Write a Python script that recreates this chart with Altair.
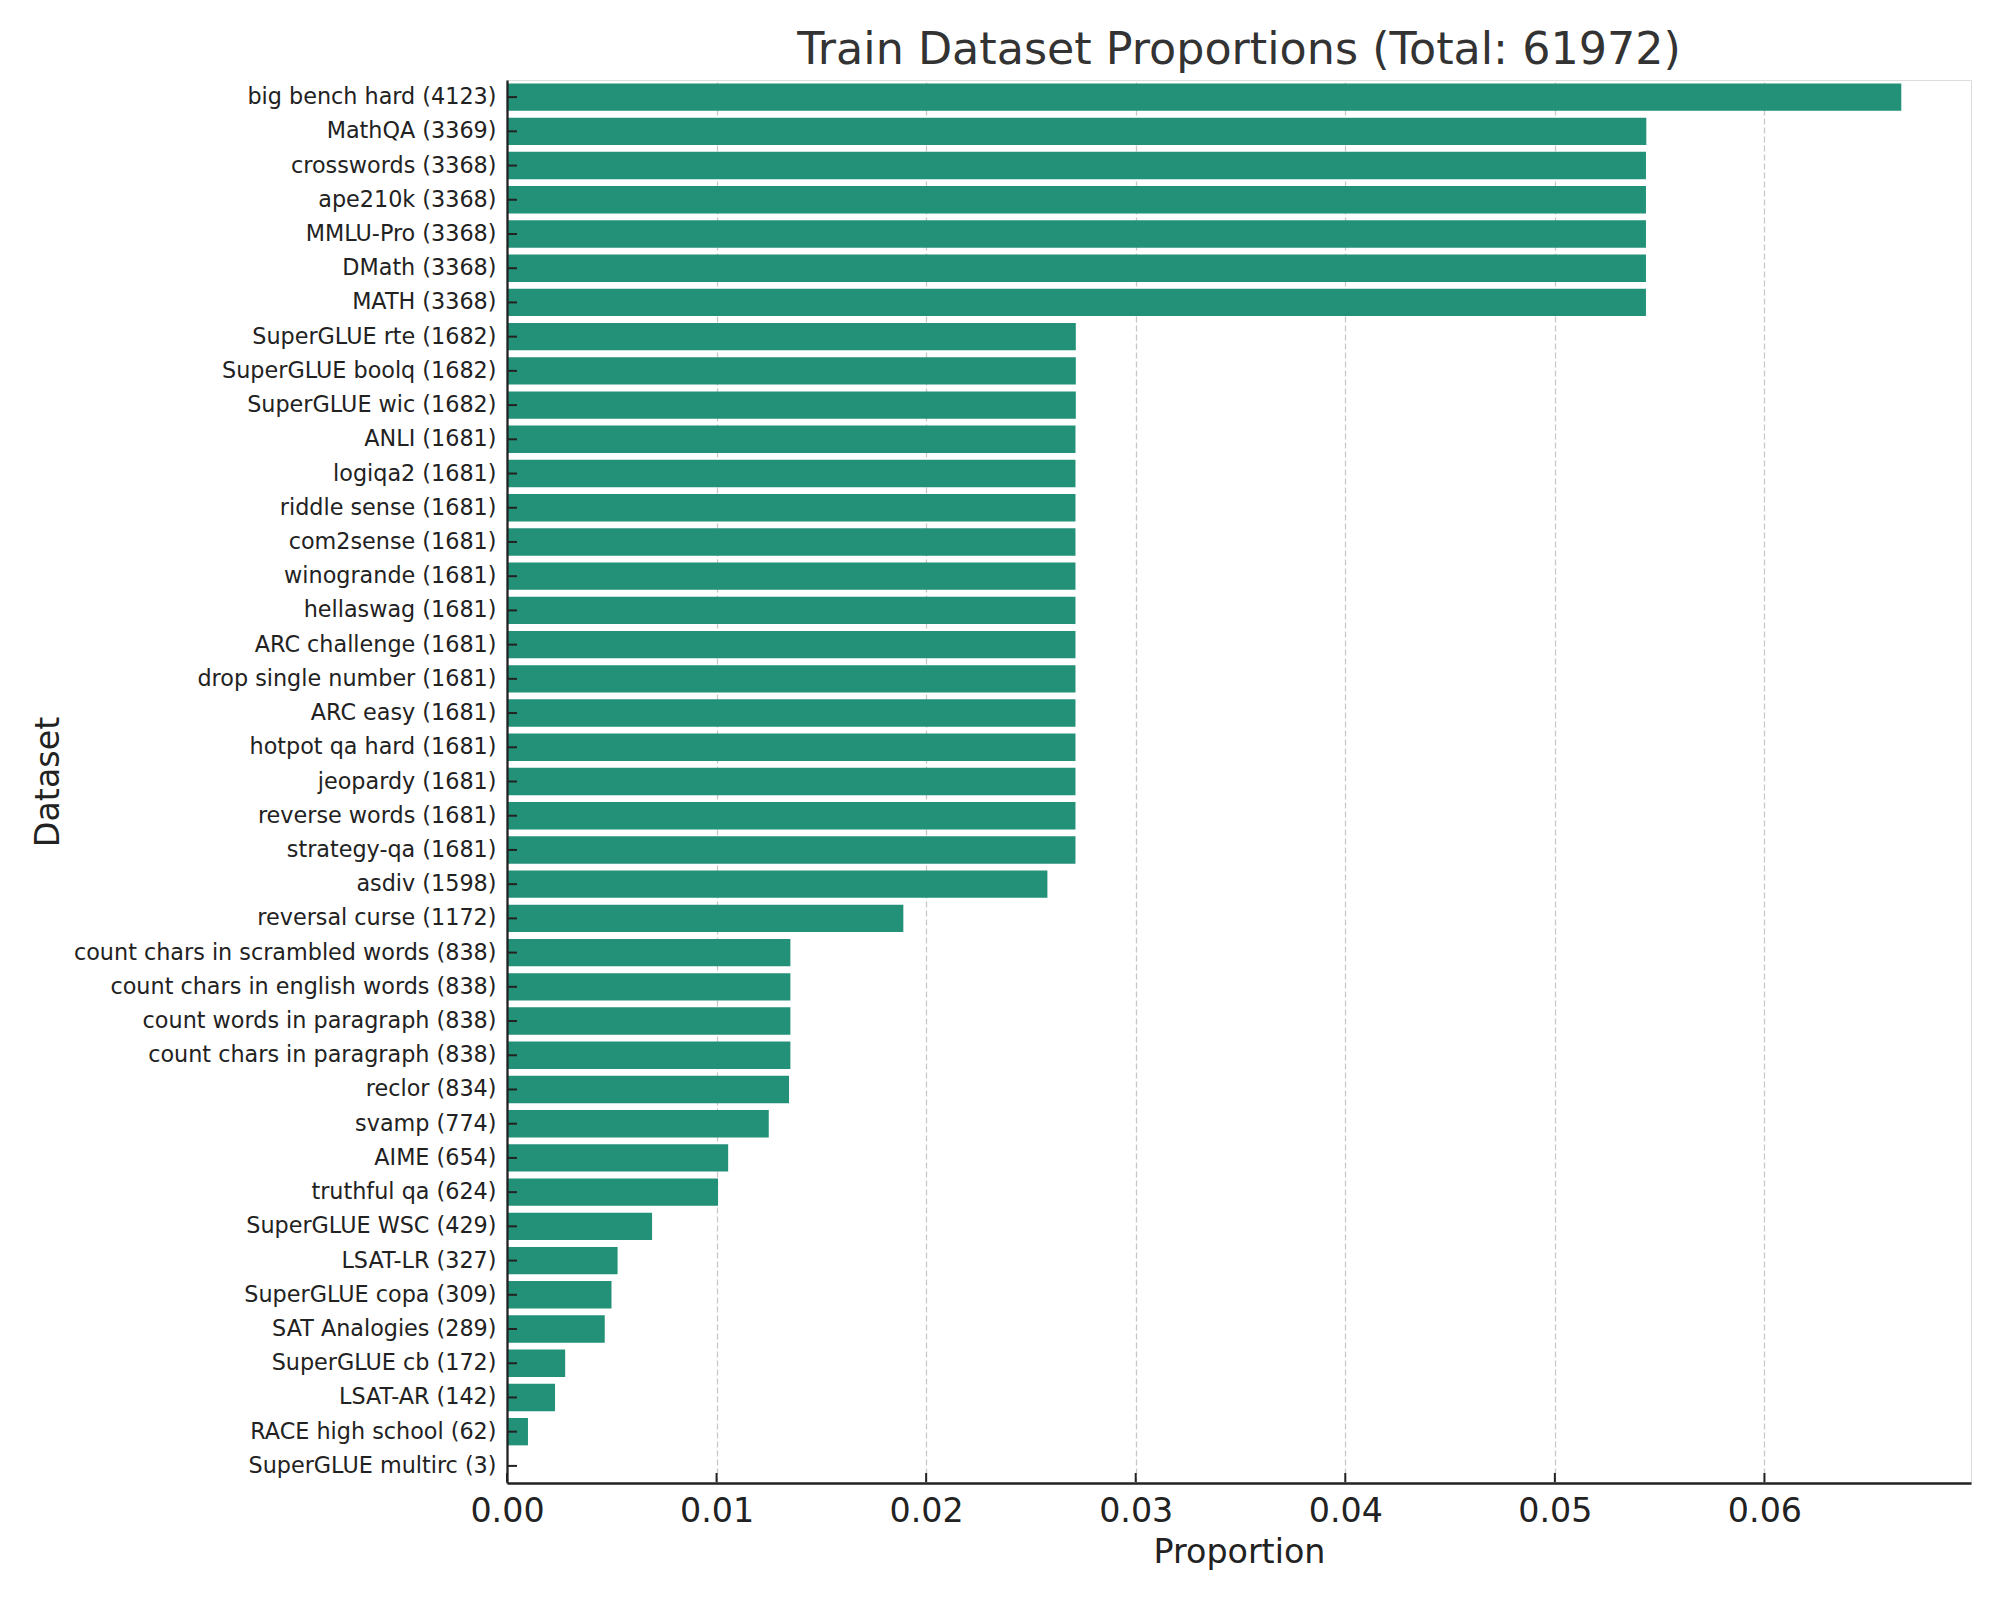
import altair as alt
import pandas as pd

names = [
    "big bench hard", "MathQA", "crosswords", "ape210k", "MMLU-Pro", "DMath", "MATH",
    "SuperGLUE rte", "SuperGLUE boolq", "SuperGLUE wic", "ANLI", "logiqa2", "riddle sense",
    "com2sense", "winogrande", "hellaswag", "ARC challenge", "drop single number", "ARC easy",
    "hotpot qa hard", "jeopardy", "reverse words", "strategy-qa", "asdiv", "reversal curse",
    "count chars in scrambled words", "count chars in english words", "count words in paragraph",
    "count chars in paragraph", "reclor", "svamp", "AIME", "truthful qa", "SuperGLUE WSC",
    "LSAT-LR", "SuperGLUE copa", "SAT Analogies", "SuperGLUE cb", "LSAT-AR",
    "RACE high school", "SuperGLUE multirc",
]
counts = [
    4123, 3369, 3368, 3368, 3368, 3368, 3368,
    1682, 1682, 1682, 1681, 1681, 1681,
    1681, 1681, 1681, 1681, 1681, 1681,
    1681, 1681, 1681, 1681, 1598, 1172,
    838, 838, 838,
    838, 834, 774, 654, 624, 429,
    327, 309, 289, 172, 142,
    62, 3,
]
x_ticks = [0.0, 0.01, 0.02, 0.03, 0.04, 0.05, 0.06]

total = sum(counts)
labels = [f"{n} ({c})" for n, c in zip(names, counts)]
df = pd.DataFrame({"label": labels, "count": counts,
                   "proportion": [c / total for c in counts]})
ticks_df = pd.DataFrame({"proportion": x_ticks})

W, H = 1464, 1403
FONT = "DejaVu Sans"
xmax = max(counts) / total * 1.05

xscale = alt.Scale(domain=[0, xmax], nice=False, zero=True)
yscale = alt.Scale(paddingInner=0.2, paddingOuter=0.1)

xaxis = alt.Axis(values=x_ticks, format=".2f", title="Proportion",
                 grid=True, gridDash=[6, 3], gridColor="#c8c8c8", gridWidth=1.3,
                 ticks=False, tickSize=0, labelPadding=12,
                 labelFontSize=33.3, labelColor="#222222", labelFont=FONT,
                 titleFont=FONT, titleFontSize=33.3, titleFontWeight="normal",
                 titleColor="#222222", titleX=W / 2, titleY=79,
                 titleBaseline="alphabetic", titleAlign="center",
                 domainColor="#222222", domainWidth=2.3, labelFlush=False)
yaxis = alt.Axis(title="Dataset", ticks=False, tickSize=0, labelPadding=11,
                 labelFontSize=22.3, labelColor="#222222", labelFont=FONT,
                 labelLimit=2000, grid=False,
                 titleFont=FONT, titleFontSize=33.3, titleFontWeight="normal",
                 titleColor="#222222", titleX=-449, titleY=H / 2,
                 titleAngle=270, titleBaseline="alphabetic", titleAlign="center",
                 domainColor="#222222", domainWidth=2.3, zindex=1)

bars = alt.Chart(df).mark_bar(color="#239178").encode(
    x=alt.X("proportion:Q", scale=xscale, axis=xaxis),
    y=alt.Y("label:N", sort=labels, scale=yscale, axis=yaxis),
)

ytick_rules = alt.Chart(df).mark_rule(color="#222222", strokeWidth=2).encode(
    y=alt.Y("label:N", sort=labels, scale=yscale, bandPosition=0.5, axis=yaxis),
    x=alt.value(1),
    x2=alt.value(10),
)

xtick_rules = alt.Chart(ticks_df).mark_rule(color="#222222", strokeWidth=2).encode(
    x=alt.X("proportion:Q", scale=xscale, axis=xaxis),
    y=alt.value(H - 1),
    y2=alt.value(H - 10),
)

chart = alt.layer(bars, ytick_rules, xtick_rules).properties(
    width=W, height=H,
    title=alt.TitleParams(
        text="Train Dataset Proportions (Total: 61972)",
        font=FONT, fontSize=44.4, fontWeight="normal", color="#333333",
        anchor="middle", baseline="alphabetic", offset=16, dy=44,
    ),
    autosize=alt.AutoSizeParams(type="none"),
    padding={"left": 499, "top": 72, "right": 21, "bottom": 109},
).configure_view(strokeWidth=0).configure(background="white")

chart.save("out.html", embed_options={"renderer": "svg", "actions": False})
